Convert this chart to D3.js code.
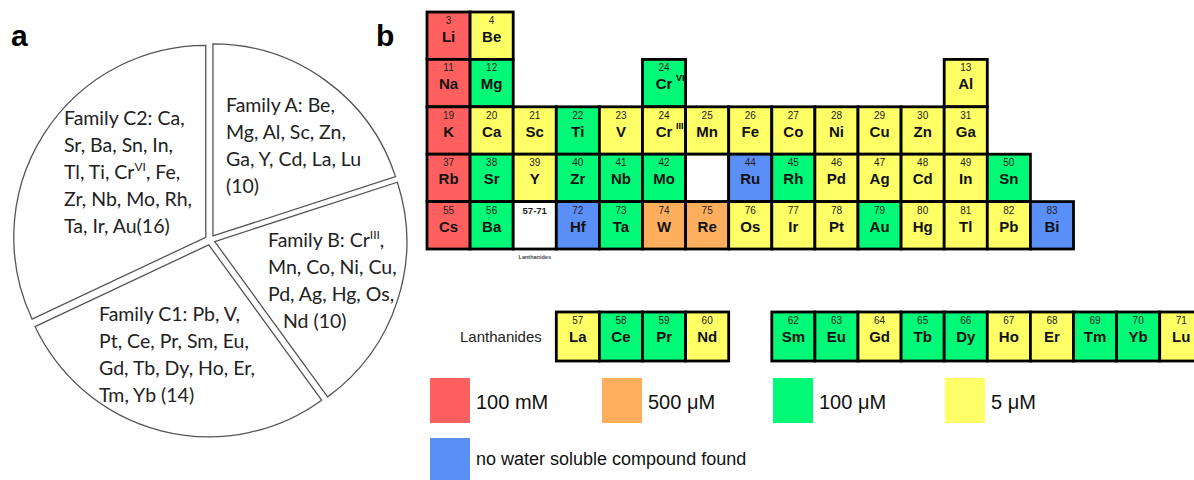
<!DOCTYPE html>
<html>
<head>
<meta charset="utf-8">
<script src="https://cdn.jsdelivr.net/npm/d3@7"></script>
<style>
  body { margin: 0; background: #fff; }
  svg { display: block; }
</style>
</head>
<body>
<svg id="chart" width="1194" height="480"></svg>
<script>
// pie: families and element counts
const families = ["A", "B", "C1", "C2"];
const familyCounts = [10, 10, 14, 16];
const familyLines = [
  ["Family A: Be,", "Mg, Al, Sc, Zn,", "Ga, Y, Cd, La, Lu", "(10)"],
  ["Family B: Cr^III,", "Mn, Co, Ni, Cu,", "Pd, Ag, Hg, Os,", "  Nd (10)"],
  ["Family C1: Pb, V,", "Pt, Ce, Pr, Sm, Eu,", "Gd, Tb, Dy, Ho, Er,", "Tm, Yb (14)"],
  ["Family C2: Ca,", "Sr, Ba, Sn, In,", "Tl, Ti, Cr^VI, Fe,", "Zr, Nb, Mo, Rh,", "Ta, Ir, Au(16)"]
];

// periodic table: [number, symbol, row, col, class, superscript]
const mainCells = [
  ["3","Li",0,0,"r"],["4","Be",0,1,"y"],
  ["11","Na",1,0,"r"],["12","Mg",1,1,"g"],["24","Cr",1,5,"g","VI"],["13","Al",1,12,"y"],
  ["19","K",2,0,"r"],["20","Ca",2,1,"y"],["21","Sc",2,2,"y"],["22","Ti",2,3,"g"],["23","V",2,4,"y"],
  ["24","Cr",2,5,"y","III"],["25","Mn",2,6,"y"],["26","Fe",2,7,"y"],["27","Co",2,8,"y"],["28","Ni",2,9,"y"],
  ["29","Cu",2,10,"y"],["30","Zn",2,11,"y"],["31","Ga",2,12,"y"],
  ["37","Rb",3,0,"r"],["38","Sr",3,1,"g"],["39","Y",3,2,"y"],["40","Zr",3,3,"g"],["41","Nb",3,4,"g"],
  ["42","Mo",3,5,"g"],["","",3,6,"w"],["44","Ru",3,7,"b"],["45","Rh",3,8,"g"],["46","Pd",3,9,"y"],
  ["47","Ag",3,10,"y"],["48","Cd",3,11,"y"],["49","In",3,12,"y"],["50","Sn",3,13,"g"],
  ["55","Cs",4,0,"r"],["56","Ba",4,1,"g"],["57-71","",4,2,"w"],["72","Hf",4,3,"b"],["73","Ta",4,4,"g"],
  ["74","W",4,5,"o"],["75","Re",4,6,"o"],["76","Os",4,7,"y"],["77","Ir",4,8,"y"],["78","Pt",4,9,"y"],
  ["79","Au",4,10,"g"],["80","Hg",4,11,"y"],["81","Tl",4,12,"y"],["82","Pb",4,13,"y"],["83","Bi",4,14,"b"]
];
const lanthCells = [
  ["57","La",3,"y"],["58","Ce",4,"g"],["59","Pr",5,"g"],["60","Nd",6,"y"],
  ["62","Sm",8,"g"],["63","Eu",9,"g"],["64","Gd",10,"y"],["65","Tb",11,"g"],["66","Dy",12,"g"],
  ["67","Ho",13,"y"],["68","Er",14,"y"],["69","Tm",15,"g"],["70","Yb",16,"g"],["71","Lu",17,"y"]
];

// legend
const legendKeys = ["r", "o", "g", "y", "b"];
const legendLabels = ["100 mM", "500 μM", "100 μM", "5 μM", "no water soluble compound found"];

const colors = d3.scaleOrdinal()
  .domain(["r", "o", "g", "y", "b", "w"])
  .range(["#ff5f5f", "#ffae5e", "#00fa78", "#ffff66", "#5b8ff8", "#ffffff"]);

const svg = d3.select("#chart");

// ---- panel labels
svg.append("text").attr("x", 11).attr("y", 46).text("a")
  .attr("font-family", "Liberation Sans, Arial").attr("font-weight", "bold").attr("font-size", 30);
svg.append("text").attr("x", 376).attr("y", 46).text("b")
  .attr("font-family", "Liberation Sans, Arial").attr("font-weight", "bold").attr("font-size", 30);

// ---- pie (exploded)
const cx = 210, cy = 240, R = 192, explode = 5;
const pie = d3.pie().sort(null).value(d => d)(familyCounts);
const arc = d3.arc().innerRadius(0).outerRadius(R);

const slices = svg.append("g").attr("transform", `translate(${cx},${cy})`);
slices.selectAll("path")
  .data(pie)
  .join("path")
  .attr("d", arc)
  .attr("transform", d => {
    const a = (d.startAngle + d.endAngle) / 2;
    return `translate(${Math.sin(a) * explode},${-Math.cos(a) * explode})`;
  })
  .attr("fill", "#fff")
  .attr("stroke", "#555")
  .attr("stroke-width", 1.3);

// label positions for each family: left x, first baseline
const labelPos = [[226, 112], [268, 247], [99, 321], [64, 125]];
const lineH = 27;
const pieText = svg.append("g")
  .attr("font-family", "Lato, 'Open Sans', sans-serif")
  .attr("font-size", 19.5)
  .attr("fill", "#222");

familyLines.forEach((lines, i) => {
  lines.forEach((ln, j) => {
    const indent = ln.length - ln.trimStart().length;
    ln = ln.trim();
    const t = pieText.append("text")
      .attr("x", labelPos[i][0] + indent * 7.5).attr("y", labelPos[i][1] + j * lineH);
    const m = ln.match(/^(.*)\^([IV]+)(.*)$/);
    if (m) {
      t.append("tspan").text(m[1]);
      t.append("tspan").text(m[2]).attr("font-size", 12).attr("dy", -8);
      t.append("tspan").text(m[3]).attr("dy", 8);
    } else {
      t.text(ln);
    }
  });
});

// ---- periodic table
const cw = 43.1, ch = 47.4;
const xCol = d3.scaleLinear().domain([0, 1]).range([427, 427 + cw]);
const yRow = d3.scaleLinear().domain([0, 1]).range([12, 12 + ch]);

const table = svg.append("g").attr("font-family", "Liberation Sans, Arial");

function drawCell(g, x, y, w, h, c) {
  const cell = g.append("g").attr("transform", `translate(${x},${y})`);
  cell.append("rect").attr("width", w).attr("height", h)
    .attr("fill", colors(c[4]))
    .attr("stroke", "#000").attr("stroke-width", 2.8);
  cell.append("text").attr("x", w / 2).attr("y", 12).attr("text-anchor", "middle")
    .attr("font-size", c[0].length > 3 ? 9.5 : 10).attr("fill", "#222")
    .attr("font-weight", c[0].length > 3 ? "bold" : "normal").text(c[0]);
  cell.append("text").attr("x", w / 2).attr("y", 30).attr("text-anchor", "middle")
    .attr("font-size", 15).attr("font-weight", "bold").attr("fill", "#111").text(c[1]);
  if (c[5]) {
    cell.append("text").attr("x", w / 2 + 12).attr("y", 22)
      .attr("font-size", 9).attr("font-weight", "bold").text(c[5]);
  }
}

mainCells.forEach(c => drawCell(table, xCol(c[3]), yRow(c[2]), cw, ch, c));

table.append("text").attr("x", xCol(2) + cw / 2).attr("y", yRow(5) + 10)
  .attr("text-anchor", "middle").attr("font-size", 5.5).attr("font-weight", "bold")
  .attr("fill", "#444").text("Lanthanides");

// lanthanide row
const lanY = 312, lanH = 49;
lanthCells.forEach(c => drawCell(table, xCol(c[2]), lanY, cw, lanH,
  [c[0], c[1], 0, 0, c[3]]));
table.append("text").attr("x", 460).attr("y", 342).attr("font-size", 15)
  .attr("fill", "#222").text("Lanthanides");

// ---- legend
const legendPos = [[430, 378], [602, 378], [773, 378], [945, 378], [430, 438]];
const legend = svg.append("g").attr("font-family", "Liberation Sans, Arial");
legendKeys.forEach((k, i) => {
  legend.append("rect").attr("x", legendPos[i][0]).attr("y", legendPos[i][1])
    .attr("width", 40).attr("height", 45).attr("fill", colors(k));
  legend.append("text").attr("x", legendPos[i][0] + 46)
    .attr("y", legendPos[i][1] + (i === 4 ? 27 : 31))
    .attr("font-size", i === 4 ? 18 : 20).attr("fill", "#111").text(legendLabels[i]);
});
</script>
</body>
</html>
